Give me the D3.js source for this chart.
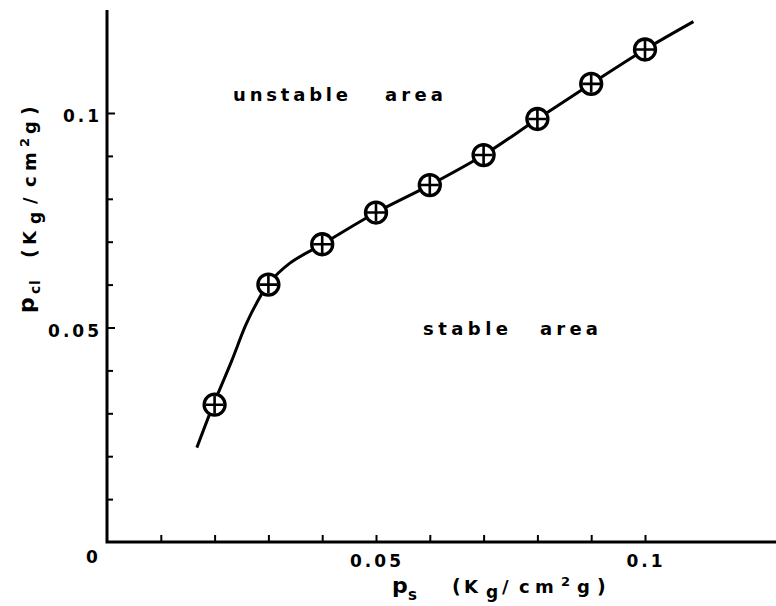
<!DOCTYPE html>
<meta charset="utf-8">
<style>
  body { margin: 0; background-color: #fff; }
  text { font-family: "DejaVu Sans", sans-serif; font-weight: bold; fill: #000; }
</style>
<body>
<svg width="776" height="606"></svg>
<script src="https://d3js.org/d3.v7.min.js"></script>
<script>

// measured points (p_s, p_cl) in Kg/cm2g
var ps  = [0.02, 0.03, 0.04, 0.05, 0.06, 0.07, 0.08, 0.09, 0.10];
var pcl = [0.032, 0.060, 0.0694, 0.0768, 0.0832, 0.0902, 0.0986, 0.1068, 0.1148];

// hand drawn curve through the points
var curveX = [0.0167, 0.0197, 0.0231, 0.0258, 0.0279, 0.0301, 0.034, 0.04, 0.05, 0.06, 0.07, 0.08, 0.09, 0.10, 0.109];
var curveY = [0.0220, 0.0318, 0.0420, 0.0506, 0.0559, 0.0603, 0.0650, 0.0694, 0.0768, 0.0832, 0.0902, 0.0986, 0.1068, 0.1148, 0.1213];

var xTicks = [0.01, 0.02, 0.03, 0.04, 0.05, 0.06, 0.07, 0.08, 0.09, 0.1];
var yTicks = [0.01, 0.02, 0.03, 0.04, 0.05, 0.06, 0.07, 0.08, 0.09, 0.1];
var xLabels = [0.05, 0.1];
var yLabels = [0.05, 0.1];

var svg = d3.select("svg");

var x = d3.scaleLinear().domain([0, 0.1]).range([107, 645]);
var y = d3.scaleLinear().domain([0, 0.1]).range([542, 113]);

var fmt = function(d) { return d === 0.1 ? "0.1" : "0.05"; };

// ticks (inward)
svg.append("g")
    .attr("transform", "translate(0," + y(0) + ")")
    .call(d3.axisBottom(x).tickValues(xTicks).tickSize(-7).tickFormat(""))
    .call(g => g.select(".domain").remove())
    .call(g => g.selectAll("line").attr("stroke", "#000").attr("stroke-width", 2));

svg.append("g")
    .attr("transform", "translate(" + x(0) + ",0)")
    .call(d3.axisLeft(y).tickValues(yTicks).tickSize(-6).tickFormat(""))
    .call(g => g.select(".domain").remove())
    .call(g => g.selectAll("line").attr("stroke", "#000").attr("stroke-width", 2)
      .attr("x2", d => yLabels.includes(d) ? 8 : 6));

// axis lines
svg.append("path")
    .attr("d", "M" + x(0) + "," + y(0.124) + "V" + y(0) + "H" + x(0.1245))
    .attr("fill", "none")
    .attr("stroke", "#000")
    .attr("stroke-width", 3);

// tick labels
svg.selectAll(".xl").data(xLabels).enter().append("text")
    .attr("x", d => x(d) + 1)
    .attr("y", 567)
    .attr("text-anchor", "middle")
    .attr("font-size", 17)
    .attr("letter-spacing", 3)
    .text(fmt);

svg.selectAll(".yl").data(yLabels).enter().append("text")
    .attr("x", 102)
    .attr("y", d => y(d) + 9)
    .attr("text-anchor", "end")
    .attr("font-size", 17)
    .attr("letter-spacing", 3)
    .text(fmt);

svg.append("text")
    .attr("x", 92).attr("y", 563)
    .attr("text-anchor", "middle")
    .attr("font-size", 17)
    .text("0");

// curve
var line = d3.line()
    .x((d, i) => x(curveX[i]))
    .y(d => y(d))
    .curve(d3.curveCatmullRom);

svg.append("path")
    .attr("d", line(curveY))
    .attr("fill", "none")
    .attr("stroke", "#000")
    .attr("stroke-width", 3);

// markers
var m = svg.selectAll(".pt").data(pcl).enter().append("g")
    .attr("transform", (d, i) => "translate(" + x(ps[i]) + "," + y(d) + ")");
m.append("circle").attr("r", 10.5).attr("fill", "#fff").attr("stroke", "#000").attr("stroke-width", 3.3);
m.append("path").attr("d", "M-9,0H9M0,-9V9").attr("stroke", "#000").attr("stroke-width", 2.6);

// region labels
function word(t, x0, y0, len) {
  svg.append("text").attr("x", x0).attr("y", y0)
      .attr("font-size", 18).attr("textLength", len).attr("lengthAdjust", "spacing")
      .text(t);
}
word("unstable", 233, 101, 115);
word("area", 385, 101, 58);
word("stable", 423, 335, 85);
word("area", 540, 335, 58);

// axis titles, glyph by glyph: [char, offset, shift, size]
function title(g, glyphs) {
  var t = g.append("text");
  glyphs.forEach(function(c) {
    t.append("tspan").attr("x", c[1]).attr("y", c[2]).attr("font-size", c[3]).text(c[0]);
  });
}

title(svg.append("g").attr("transform", "translate(392,593)"), [
  ["p", 0, 0, 22], ["s", 16, 7, 15], ["(", 60, 0, 19], ["K", 72, 0, 18],
  ["g", 94, 5, 17], ["/", 110, 0, 18], ["c", 127, 0, 18], ["m", 143, 0, 18],
  ["2", 169, -7, 13], ["g", 185, 0, 18], [")", 205, 0, 19]
]);

title(svg.append("g").attr("transform", "translate(34,313) rotate(-90)"), [
  ["p", 0, 0, 22], ["c", 19, 6, 14], ["l", 28, 6, 14], ["(", 55, 2, 19], ["K", 68, 2, 18],
  ["g", 89, 7, 17], ["/", 109, 2, 18], ["c", 126, 2, 18], ["m", 142, 2, 18],
  ["2", 166, -5, 13], ["g", 179, 2, 18], [")", 198, 2, 19]
]);

</script>
</body>
